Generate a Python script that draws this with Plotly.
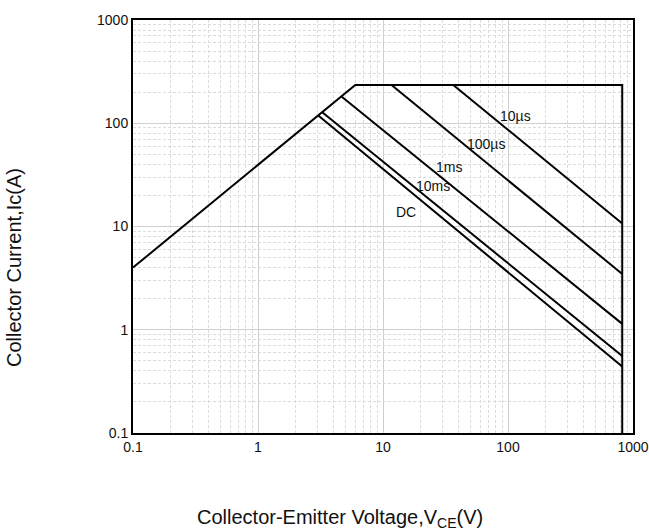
import plotly.graph_objects as go
import math

# Safe operating area envelope (V, A)
env_v = [0.1, 6.0, 820, 820]
env_i = [4.0, 235, 235, 0.1]

# Pulse-width limited lines
pulse_labels = ["DC", "10ms", "1ms", "100µs", "10µs"]
pulse_v_start = [3.0, 3.23, 4.6, 11.7, 36.5]
pulse_i_start = [120, 129, 184, 235, 235]
pulse_v_end = [820, 820, 820, 820, 820]
pulse_i_end = [0.44, 0.557, 1.14, 3.47, 10.7]
label_v = [15.2, 25.0, 33.7, 66.7, 115.3]
label_i = [13.9, 24.7, 37.7, 63.0, 118.3]

tick_vals = [0.1, 1, 10, 100, 1000]
tick_text = ["0.1", "1", "10", "100", "1000"]

FONT = "Liberation Sans, Arial, sans-serif"
fig = go.Figure()

fig.add_trace(go.Scatter(x=env_v, y=env_i, mode="lines",
                         line=dict(color="black", width=2), showlegend=False))
for lab, v0, i0, v1, i1 in zip(pulse_labels, pulse_v_start, pulse_i_start, pulse_v_end, pulse_i_end):
    fig.add_trace(go.Scatter(x=[v0, v1], y=[i0, i1], mode="lines", name=lab,
                             line=dict(color="black", width=2), showlegend=False))

for lab, v, i in zip(pulse_labels, label_v, label_i):
    fig.add_annotation(x=math.log10(v), y=math.log10(i), text=lab, showarrow=False,
                       font=dict(family=FONT, size=14, color="#111"))

axis_common = dict(
    type="log", showline=True, linecolor="black", linewidth=2, mirror=True,
    ticks="", showgrid=True, gridcolor="#cfcfcf", gridwidth=1,
    tickvals=tick_vals, ticktext=tick_text,
    tickfont=dict(family=FONT, size=14, color="#111"),
    minor=dict(dtick="D1", showgrid=True, gridcolor="#dcdcdc", griddash="3px,2px", gridwidth=1),
    zeroline=False, ticklabeloverflow="allow", automargin=False,
)
fig.update_xaxes(range=[-1, 3], **axis_common)
fig.update_yaxes(range=[-1, 3], **axis_common)

fig.add_annotation(xref="paper", yref="paper", x=0.414, y=-0.208,
                   text="Collector-Emitter Voltage,V<sub>CE</sub>(V)", showarrow=False,
                   font=dict(family=FONT, size=20, color="#111"), xanchor="center", yanchor="middle")
fig.add_annotation(xref="paper", yref="paper", x=-0.238, y=0.3995,
                   text="Collector Current,Ic(A)", showarrow=False, textangle=-90,
                   font=dict(family=FONT, size=20, color="#111"), xanchor="center", yanchor="middle")

fig.update_layout(width=649, height=531, margin=dict(l=133, r=16, t=20, b=98, autoexpand=False),
                  plot_bgcolor="white", paper_bgcolor="white")
fig.write_html("out.html")
